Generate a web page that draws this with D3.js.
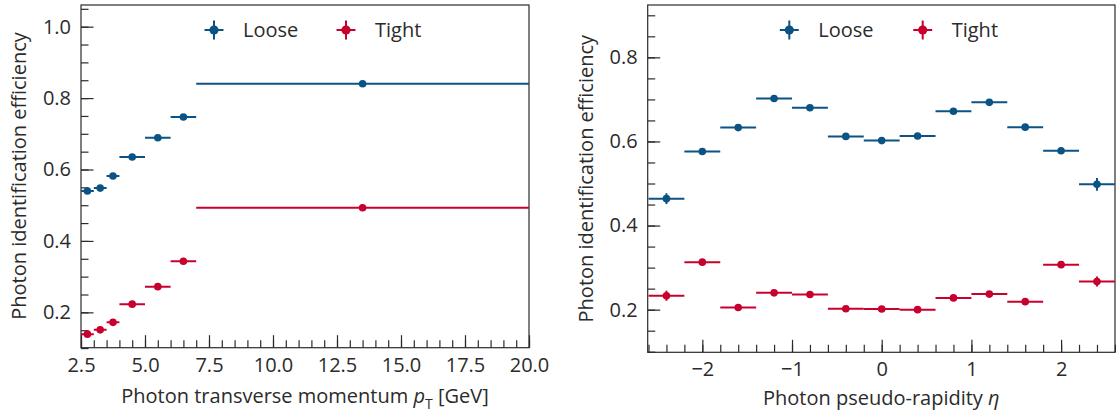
<!DOCTYPE html>
<html>
<head>
<meta charset="utf-8">
<script src="https://cdn.jsdelivr.net/npm/d3@7"></script>
<style>
  html, body { margin: 0; padding: 0; background: #fff; }
  svg { display: block; }
  text { font-family: "Open Sans", "Noto Sans", sans-serif; fill: #2b2b2b; }
</style>
</head>
<body>
<svg id="chart" width="1119" height="416"></svg>
<script>
// ---------- data ----------
const ptBinLow  = [2.5, 3.0, 3.5, 4.0, 5.0, 6.0, 7.0];
const ptBinHigh = [3.0, 3.5, 4.0, 5.0, 6.0, 7.0, 20.0];
const ptCenter  = [2.75, 3.25, 3.75, 4.5, 5.5, 6.5, 13.5];
const ptLoose    = [0.540, 0.548, 0.582, 0.635, 0.689, 0.747, 0.840];
const ptLooseErr = [0.006, 0.005, 0.005, 0.004, 0.004, 0.004, 0.003];
const ptTight    = [0.139, 0.151, 0.172, 0.223, 0.272, 0.343, 0.493];
const ptTightErr = [0.005, 0.004, 0.004, 0.004, 0.004, 0.004, 0.003];

const etaCenter   = [-2.4, -2.0, -1.6, -1.2, -0.8, -0.4, 0.0, 0.4, 0.8, 1.2, 1.6, 2.0, 2.4];
const etaHalfWidth = 0.2;
const etaLoose    = [0.464, 0.576, 0.633, 0.702, 0.680, 0.612, 0.602, 0.613, 0.672, 0.693, 0.634, 0.578, 0.498];
const etaLooseErr = [0.013, 0.004, 0.004, 0.004, 0.004, 0.004, 0.004, 0.004, 0.004, 0.004, 0.004, 0.004, 0.015];
const etaTight    = [0.233, 0.313, 0.205, 0.240, 0.236, 0.202, 0.2016, 0.200, 0.228, 0.237, 0.219, 0.307, 0.267];
const etaTightErr = [0.012, 0.004, 0.004, 0.004, 0.004, 0.004, 0.004, 0.004, 0.004, 0.004, 0.004, 0.004, 0.012];

const ptXTicks   = [2.5, 5.0, 7.5, 10.0, 12.5, 15.0, 17.5, 20.0];
const ptYTicks   = [0.2, 0.4, 0.6, 0.8, 1.0];
const etaXTicks  = [-2, -1, 0, 1, 2];
const etaYTicks  = [0.2, 0.4, 0.6, 0.8];
const seriesNames = ["Loose", "Tight"];
const colors = {Loose: "#0b5384", Tight: "#c8002e"};

// ---------- drawing ----------
const svg = d3.select("#chart");
const MAJ = 12.5, MIN = 7.5;
const FS = 20;

function panel(cfg) {
  const {x0, x1, y0, y1, xDomain, yDomain, xTicks, xMinor, yTicks, yMinor, xFmt, series, legendX} = cfg;
  const x = d3.scaleLinear().domain(xDomain).range([x0, x1]);
  const y = d3.scaleLinear().domain(yDomain).range([y1, y0]);
  const g = svg.append("g");

  // minor ticks
  g.append("g").attr("transform", `translate(0,${y1})`)
    .call(d3.axisBottom(x).tickValues(xMinor).tickFormat("").tickSize(-MIN))
    .call(s => s.select(".domain").remove());
  g.append("g").attr("transform", `translate(${x0},0)`)
    .call(d3.axisLeft(y).tickValues(yMinor).tickFormat("").tickSize(-MIN))
    .call(s => s.select(".domain").remove());
  // major ticks
  const xa = g.append("g").attr("transform", `translate(0,${y1})`)
    .call(d3.axisBottom(x).tickValues(xTicks).tickFormat(xFmt).tickSize(-MAJ).tickPadding(10));
  xa.select(".domain").remove();
  const ya = g.append("g").attr("transform", `translate(${x0},0)`)
    .call(d3.axisLeft(y).tickValues(yTicks).tickFormat(d3.format(".1f")).tickSize(-MAJ).tickPadding(10));
  ya.select(".domain").remove();
  g.selectAll(".tick line").attr("stroke", "#2b2b2b").attr("stroke-width", 1.2);
  g.selectAll(".tick text").style("font-size", FS + "px").style("font-family", '"Open Sans", sans-serif').attr("fill", "#2b2b2b");

  // frame
  g.append("rect").attr("x", x0).attr("y", y0).attr("width", x1 - x0).attr("height", y1 - y0)
    .attr("fill", "none").attr("stroke", "#2b2b2b").attr("stroke-width", 1.2);

  // data
  const clipId = "clip" + Math.round(x0);
  svg.append("clipPath").attr("id", clipId).append("rect")
    .attr("x", x0).attr("y", y0).attr("width", x1 - x0).attr("height", y1 - y0);
  const dg = g.append("g").attr("clip-path", `url(#${clipId})`);
  series.forEach(s => {
    const c = colors[s.name];
    const pts = s.xc.map((xc, i) => ({xc, lo: s.lo[i], hi: s.hi[i], v: s.v[i], e: s.e[i]}));
    const sg = dg.append("g");
    sg.selectAll(".hbar").data(pts).join("line")
      .attr("x1", d => x(d.lo)).attr("x2", d => x(d.hi))
      .attr("y1", d => y(d.v)).attr("y2", d => y(d.v))
      .attr("stroke", c).attr("stroke-width", 2);
    sg.selectAll(".vbar").data(pts).join("line")
      .attr("x1", d => x(d.xc)).attr("x2", d => x(d.xc))
      .attr("y1", d => y(d.v - d.e)).attr("y2", d => y(d.v + d.e))
      .attr("stroke", c).attr("stroke-width", 2);
    sg.selectAll("circle").data(pts).join("circle")
      .attr("cx", d => x(d.xc)).attr("cy", d => y(d.v)).attr("r", 3.8).attr("fill", c);
  });

  // legend
  seriesNames.forEach((name, i) => {
    const lx = legendX[i], ly = 30;
    const c = colors[name];
    const lg = g.append("g");
    lg.append("line").attr("x1", lx - 9.5).attr("x2", lx + 9.5).attr("y1", ly).attr("y2", ly).attr("stroke", c).attr("stroke-width", 2);
    lg.append("line").attr("x1", lx).attr("x2", lx).attr("y1", ly - 9.5).attr("y2", ly + 9.5).attr("stroke", c).attr("stroke-width", 2);
    lg.append("circle").attr("cx", lx).attr("cy", ly).attr("r", 4.6).attr("fill", c);
    lg.append("text").attr("x", lx + 29).attr("y", ly).attr("dy", "0.35em")
      .style("font-size", FS + "px").text(name);
  });
  return {x, y};
}

const ptMinor = d3.range(2.5, 20.001, 0.5).map(v => +v.toFixed(2));
const ptYMinor = d3.range(0.1, 1.06, 0.05).map(v => +v.toFixed(2));
panel({
  x0: 81, x1: 529, y0: 5, y1: 347.7,
  xDomain: [2.5, 20.0], yDomain: [0.101, 1.0607],
  xTicks: ptXTicks, xMinor: ptMinor, yTicks: ptYTicks, yMinor: ptYMinor,
  xFmt: d3.format(".1f"),
  series: [
    {name: "Loose", xc: ptCenter, lo: ptBinLow, hi: ptBinHigh, v: ptLoose, e: ptLooseErr},
    {name: "Tight", xc: ptCenter, lo: ptBinLow, hi: ptBinHigh, v: ptTight, e: ptTightErr}
  ],
  legendX: [214, 346]
});

const etaMinor = d3.range(-2.6, 2.601, 0.2).map(v => +v.toFixed(2));
const etaYMinor = d3.range(0.1, 0.92, 0.05).map(v => +v.toFixed(2));
const etaLo = etaCenter.map(c => c - etaHalfWidth);
const etaHi = etaCenter.map(c => c + etaHalfWidth);
panel({
  x0: 647.7, x1: 1115, y0: 5, y1: 352.3,
  xDomain: [-2.609, 2.601], yDomain: [0.0986, 0.9245],
  xTicks: etaXTicks, xMinor: etaMinor, yTicks: etaYTicks, yMinor: etaYMinor,
  xFmt: d => d < 0 ? "\u2212" + Math.abs(d) : String(d),
  series: [
    {name: "Loose", xc: etaCenter, lo: etaLo, hi: etaHi, v: etaLoose, e: etaLooseErr},
    {name: "Tight", xc: etaCenter, lo: etaLo, hi: etaHi, v: etaTight, e: etaTightErr}
  ],
  legendX: [789.3, 922.7]
});

// axis titles
const xt1 = svg.append("text").attr("x", 305).attr("y", 403).attr("text-anchor", "middle").style("font-size", FS + "px");
xt1.append("tspan").text("Photon transverse momentum ");
xt1.append("tspan").style("font-style", "italic").text("p");
xt1.append("tspan").attr("dy", 6).style("font-size", "14px").text("T");
xt1.append("tspan").attr("dy", -6).text(" [GeV]");

const xt2 = svg.append("text").attr("x", 881.3).attr("y", 405).attr("text-anchor", "middle").style("font-size", FS + "px");
xt2.append("tspan").text("Photon pseudo-rapidity ");
xt2.append("tspan").style("font-style", "italic").text("\u03B7");

svg.append("text").attr("transform", "translate(26,176) rotate(-90)").attr("text-anchor", "middle")
  .style("font-size", FS + "px").text("Photon identification efficiency");
svg.append("text").attr("transform", "translate(593,178.7) rotate(-90)").attr("text-anchor", "middle")
  .style("font-size", FS + "px").text("Photon identification efficiency");
</script>
</body>
</html>
